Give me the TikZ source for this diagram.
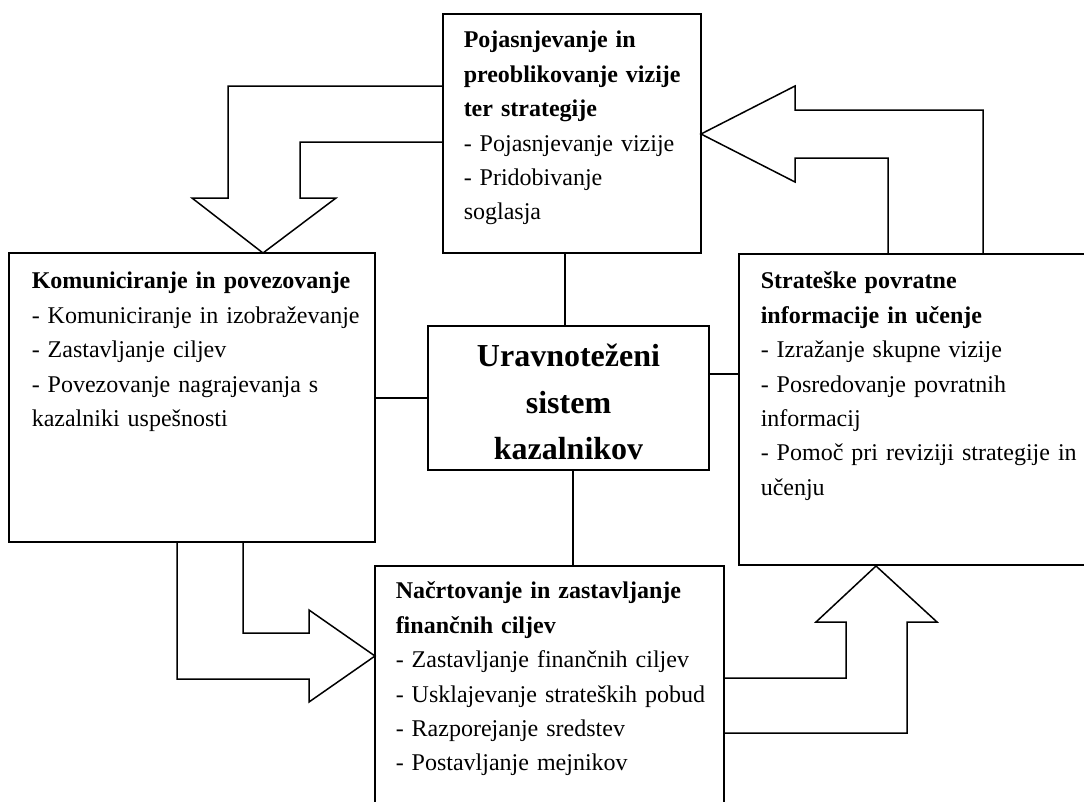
\documentclass[tikz,border=0pt]{standalone}
\usepackage{fontspec}
\setmainfont{Liberation Serif}
\begin{document}
\begin{tikzpicture}[x=1pt,y=-1pt,line width=1.5pt,
  box/.style={draw,line width=1.5pt,inner sep=0pt,outer sep=0pt,anchor=north west},
  txt/.style={anchor=north west,inner sep=0pt,align=left,text width=#1,font=\fontsize{24}{34.4}\selectfont},
  ctxt/.style={anchor=north,inner sep=0pt,align=center,text width=#1,font=\fontsize{32}{46.5}\selectfont\bfseries},
  conn/.style={draw,line width=1.5pt},
  blockarrow/.style={draw,line width=1.5pt,line join=miter}]
\useasboundingbox (0,0) rectangle (1084,801);

% boxes
\node[box,minimum width=258pt,minimum height=239pt] (top) at (443,14) {};
\node[box,minimum width=366pt,minimum height=289pt] (left) at (9,253) {};
\node[box,minimum width=281pt,minimum height=144pt] (center) at (428,326) {};
\node[box,minimum width=360pt,minimum height=311pt] (right) at (739,254) {};
\node[box,minimum width=349pt,minimum height=260pt] (bottom) at (375,566) {};

% texts
\node[txt=240pt] (toptext) at (463,23) {\strut\textbf{Pojasnjevanje in}\\\textbf{preoblikovanje vizije}\\\textbf{ter strategije}\\- Pojasnjevanje vizije\\- Pridobivanje\\soglasja};
\node[txt=340pt] (lefttext) at (31,264) {\strut\textbf{Komuniciranje in povezovanje}\\- Komuniciranje in izobraževanje\\- Zastavljanje ciljev\\- Povezovanje nagrajevanja s\\kazalniki uspešnosti};
\node[txt=330pt] (righttext) at (760,264) {\strut\textbf{Strateške povratne}\\\textbf{informacije in učenje}\\- Izražanje skupne vizije\\- Posredovanje povratnih\\informacij\\- Pomoč pri reviziji strategije in\\učenju};
\node[txt=330pt] (bottomtext) at (395,574) {\strut\textbf{Načrtovanje in zastavljanje}\\\textbf{finančnih ciljev}\\- Zastavljanje finančnih ciljev\\- Usklajevanje strateških pobud\\- Razporejanje sredstev\\- Postavljanje mejnikov};
\node[ctxt=270pt] (centertext) at (568.5,333.5) {\strut Uravnoteženi\\sistem\\kazalnikov};

% plain connectors
\coordinate (cn) at ([xshift=-3.5pt]center.north);
\coordinate (cs) at ([xshift=4.5pt]center.south);
\coordinate (ce) at ([yshift=24pt]center.east);
\draw[conn] (cn) -- (cn |- top.south);
\draw[conn] (cs) -- (cs |- bottom.north);
\draw[conn] (center.west) -- (center.west -| left.east);
\draw[conn] (ce) -- (ce -| right.west);

% block arrows
\draw[blockarrow] (top.west |- 0,86) -- (228,86) -- (228,198) -- (192,198) -- (263,253) -- (336,198) -- (300,198) -- (300,142) -- (top.west |- 0,142);
\draw[blockarrow] (983,254) -- (983,110) -- (795,110) -- (795,86) -- (top.east |- 0,134) -- (795,182) -- (795,158) -- (888,158) -- (888,254);
\draw[blockarrow] (177,542) -- (177,679) -- (309,679) -- (309,702) -- (bottom.west |- 0,656) -- (309,610) -- (309,633) -- (243,633) -- (243,542);
\draw[blockarrow] (bottom.east |- 0,733) -- (907,733) -- (907,622) -- (937,622) -- (876,566) -- (816,622) -- (846,622) -- (846,678) -- (bottom.east |- 0,678);
\end{tikzpicture}
\end{document}
